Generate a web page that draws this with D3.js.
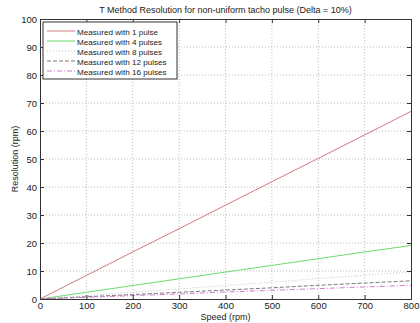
<!DOCTYPE html>
<html>
<head>
<meta charset="utf-8">
<script src="https://cdn.jsdelivr.net/npm/d3@7"></script>
<style>
  body { margin: 0; background: #fff; }
  svg { display: block; font-family: "Liberation Sans", Arial, sans-serif; }
</style>
</head>
<body>
<div id="chart"></div>
<script>
const speeds = [0, 100, 200, 300, 400, 500, 600, 700, 800];
const pulse1 = [0, 8.4, 16.8, 25.1, 33.5, 41.9, 50.2, 58.6, 67.0];
const pulse4 = [0, 2.4, 4.8, 7.2, 9.6, 12.0, 14.4, 16.8, 19.1];
const pulse8 = [0, 1.2, 2.4, 3.6, 4.8, 6.0, 7.3, 8.5, 9.7];
const pulse12 = [0, 0.8, 1.6, 2.4, 3.2, 4.0, 4.9, 5.7, 6.5];
const pulse16 = [0, 0.6, 1.2, 1.8, 2.5, 3.1, 3.7, 4.3, 4.9];
const seriesNames = ["Measured with 1 pulse", "Measured with 4 pulses", "Measured with 8 pulses",
                     "Measured with 12 pulses", "Measured with 16 pulses"];
const xTicks = [0, 100, 200, 300, 400, 500, 600, 700, 800];
const yTicks = [0, 10, 20, 30, 40, 50, 60, 70, 80, 90, 100];

const series = [
  { name: seriesNames[0], values: pulse1, color: "#d07a80", dash: null },
  { name: seriesNames[1], values: pulse4, color: "#6fdc6f", dash: null },
  { name: seriesNames[2], values: pulse8, color: "#c4c4c4", dash: "1,2" },
  { name: seriesNames[3], values: pulse12, color: "#7a7a7a", dash: "4,2" },
  { name: seriesNames[4], values: pulse16, color: "#d27ad2", dash: "5,2,1,2" }
];

const width = 420, height = 323;
const margin = { left: 40, right: 9, top: 19, bottom: 24 };
const innerW = width - margin.left - margin.right;
const innerH = height - margin.top - margin.bottom;

const svg = d3.select("#chart").append("svg")
    .attr("width", width)
    .attr("height", height);

const x = d3.scaleLinear().domain([0, 800]).range([margin.left, margin.left + innerW]);
const y = d3.scaleLinear().domain([0, 100]).range([margin.top + innerH, margin.top]);

// grid
svg.append("g")
    .selectAll("line")
    .data(xTicks.slice(1, -1))
    .enter().append("line")
    .attr("x1", d => x(d)).attr("x2", d => x(d))
    .attr("y1", y(0)).attr("y2", y(100))
    .attr("stroke", "#bdbdbd")
    .attr("stroke-dasharray", "1,2");

svg.append("g")
    .selectAll("line")
    .data(yTicks.slice(1, -1))
    .enter().append("line")
    .attr("x1", x(0)).attr("x2", x(800))
    .attr("y1", d => y(d)).attr("y2", d => y(d))
    .attr("stroke", "#bdbdbd")
    .attr("stroke-dasharray", "1,2");

// lines
const line = d3.line()
    .x((d, i) => x(speeds[i]))
    .y(d => y(d));

series.forEach(s => {
    svg.append("path")
        .datum(s.values)
        .attr("d", line)
        .attr("fill", "none")
        .attr("stroke", s.color)
        .attr("stroke-width", 1)
        .attr("stroke-dasharray", s.dash);
});

// axes (MATLAB style box with inward ticks)
const tickLen = 4;
const axisColor = "#333";
const fontSize = "9px";

const xAxisBottom = d3.axisBottom(x).tickValues(xTicks).tickSize(-tickLen).tickPadding(3);
const xAxisTop = d3.axisTop(x).tickValues(xTicks).tickSize(-tickLen).tickFormat("");
const yAxisLeft = d3.axisLeft(y).tickValues(yTicks).tickSize(-tickLen).tickPadding(3);
const yAxisRight = d3.axisRight(y).tickValues(yTicks).tickSize(-tickLen).tickFormat("");

function styleAxis(g) {
    g.select(".domain").attr("stroke", axisColor);
    g.selectAll(".tick line").attr("stroke", axisColor);
    g.selectAll(".tick text")
        .attr("fill", "#222")
        .style("font-size", "9.5px")
        .style("font-family", "'Liberation Sans', Arial, sans-serif");
}

svg.append("g").attr("transform", `translate(0,${y(0)})`).call(xAxisBottom).call(styleAxis);
svg.append("g").attr("transform", `translate(0,${y(100)})`).call(xAxisTop).call(styleAxis);
svg.append("g").attr("transform", `translate(${x(0)},0)`).call(yAxisLeft).call(styleAxis);
svg.append("g").attr("transform", `translate(${x(800)},0)`).call(yAxisRight).call(styleAxis);

// title + labels
svg.append("text")
    .attr("x", (x(0) + x(800)) / 2)
    .attr("y", 13)
    .attr("text-anchor", "middle")
    .style("font-size", fontSize)
    .attr("fill", "#222")
    .text("T Method Resolution for non-uniform tacho pulse (Delta = 10%)");

svg.append("text")
    .attr("x", (x(0) + x(800)) / 2)
    .attr("y", 320)
    .attr("text-anchor", "middle")
    .style("font-size", fontSize)
    .attr("fill", "#222")
    .text("Speed (rpm)");

svg.append("text")
    .attr("transform", `translate(18,${(y(0) + y(100)) / 2}) rotate(-90)`)
    .attr("text-anchor", "middle")
    .style("font-size", fontSize)
    .attr("fill", "#222")
    .text("Resolution (rpm)");

// legend
const legend = svg.append("g").attr("transform", `translate(${x(0) + 3},${y(100) + 3})`);
legend.append("rect")
    .attr("width", 134)
    .attr("height", 57)
    .attr("fill", "#fff")
    .attr("stroke", axisColor);

series.forEach((s, i) => {
    const ly = 9 + i * 10;
    legend.append("line")
        .attr("x1", 4).attr("x2", 32)
        .attr("y1", ly).attr("y2", ly)
        .attr("stroke", s.color)
        .attr("stroke-dasharray", s.dash);
    legend.append("text")
        .attr("x", 34)
        .attr("y", ly + 3.5)
        .style("font-size", "8.1px")
        .attr("fill", "#222")
        .text(s.name);
});
</script>
</body>
</html>
